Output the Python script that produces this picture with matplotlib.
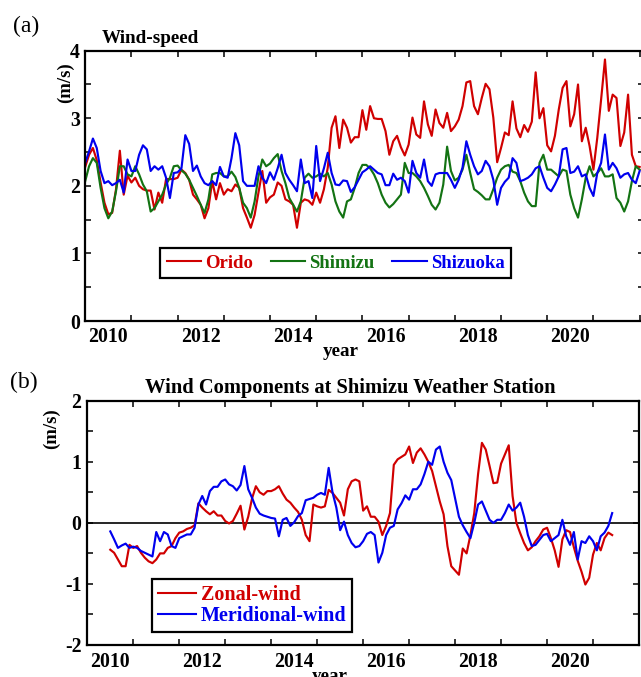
import numpy as np
import matplotlib
matplotlib.use("Agg")
import matplotlib.pyplot as plt
from matplotlib.lines import Line2D

# ---------------- data ----------------
# (a) monthly wind speed (m/s), July 2009 .. July 2021
speed_start = 2009.5
orido = [
    2.28, 2.46, 2.56, 2.38, 2.05, 1.75, 1.58, 1.60, 1.95, 2.52, 1.87, 2.15,
    2.05, 2.12, 2.00, 1.95, 1.93, 1.93, 1.65, 1.90, 1.75, 2.10, 2.10, 2.10,
    2.12, 2.24, 2.19, 2.09, 1.87, 1.80, 1.72, 1.52, 1.67, 2.07, 1.80, 2.04,
    1.87, 1.95, 1.92, 2.02, 1.97, 1.67, 1.53, 1.38, 1.57, 1.90, 2.22, 1.75,
    1.83, 1.87, 2.05, 2.00, 1.80, 1.77, 1.72, 1.38, 1.75, 1.80, 1.78, 1.72,
    1.90, 1.75, 1.95, 2.27, 2.86, 3.03, 2.56, 2.98, 2.86, 2.64, 2.72, 2.72,
    3.12, 2.83, 3.18, 3.00, 2.99, 2.99, 2.81, 2.46, 2.66, 2.74, 2.57, 2.45,
    2.61, 3.01, 2.76, 2.71, 3.25, 2.91, 2.74, 3.13, 2.93, 2.86, 3.08, 2.81,
    2.88, 2.98, 3.18, 3.53, 3.55, 3.18, 3.06, 3.30, 3.51, 3.43, 3.01, 2.35,
    2.56, 2.79, 2.75, 3.25, 2.85, 2.72, 2.90, 2.80, 2.95, 3.68, 3.00, 3.15,
    2.60, 2.51, 2.74, 3.13, 3.45, 3.55, 2.88, 3.06, 3.50, 2.66, 2.86, 2.59,
    2.24, 2.71, 3.28, 3.87, 3.11, 3.35, 3.30, 2.59, 2.79, 3.35, 2.46, 2.29,
    2.28,
]
shimizu = [
    2.07, 2.29, 2.41, 2.34, 1.97, 1.67, 1.52, 1.62, 1.92, 2.29, 2.29, 2.17,
    2.14, 2.29, 2.17, 2.02, 1.92, 1.62, 1.67, 1.77, 1.87, 2.02, 2.12, 2.29,
    2.30, 2.23, 2.18, 2.09, 1.97, 1.85, 1.72, 1.60, 1.80, 2.17, 2.19, 2.19,
    2.14, 2.14, 2.21, 2.13, 1.97, 1.75, 1.67, 1.53, 1.77, 2.14, 2.39, 2.29,
    2.33, 2.41, 2.47, 2.22, 2.04, 1.82, 1.72, 1.62, 1.77, 2.12, 2.18, 2.12,
    2.14, 2.18, 2.14, 2.19, 2.02, 1.77, 1.62, 1.53, 1.77, 1.80, 1.97, 2.19,
    2.31, 2.31, 2.26, 2.17, 2.04, 1.87, 1.75, 1.68, 1.73, 1.80, 1.87, 2.34,
    2.19, 2.19, 2.14, 2.07, 1.97, 1.85, 1.72, 1.65, 1.75, 2.02, 2.58, 2.22,
    2.08, 2.12, 2.24, 2.46, 2.19, 1.95, 1.91, 1.86, 1.80, 1.80, 1.95, 2.12,
    2.24, 2.29, 2.31, 2.21, 2.19, 2.07, 1.90, 1.77, 1.70, 1.70, 2.34, 2.46,
    2.24, 2.24, 2.19, 2.14, 2.24, 2.22, 1.87, 1.67, 1.53, 1.80, 2.12, 2.29,
    2.14, 2.19, 2.26, 2.14, 2.14, 2.17, 1.82, 1.75, 1.62, 1.77, 2.07, 2.29,
    2.24,
]
shizuoka = [
    2.34, 2.51, 2.70, 2.56, 2.22, 2.04, 2.07, 2.01, 2.04, 2.09, 1.90, 2.39,
    2.22, 2.22, 2.46, 2.60, 2.54, 2.22, 2.29, 2.24, 2.29, 2.12, 1.82, 2.19,
    2.20, 2.26, 2.75, 2.62, 2.22, 2.30, 2.14, 2.04, 2.01, 2.07, 2.01, 2.28,
    2.14, 2.12, 2.41, 2.78, 2.60, 2.07, 2.00, 2.00, 2.00, 2.29, 2.12, 2.04,
    2.20, 2.09, 2.26, 2.46, 2.19, 2.09, 2.01, 1.92, 2.39, 2.04, 2.07, 1.82,
    2.59, 2.07, 2.26, 2.49, 2.19, 2.02, 2.01, 2.08, 2.07, 1.91, 1.98, 2.09,
    2.20, 2.24, 2.29, 2.24, 2.19, 2.17, 2.01, 2.01, 2.18, 2.09, 2.12, 2.07,
    1.90, 2.37, 2.19, 2.12, 2.39, 2.07, 2.00, 2.17, 2.19, 2.19, 2.19, 2.09,
    1.97, 2.09, 2.27, 2.66, 2.46, 2.29, 2.17, 2.22, 2.37, 2.29, 2.09, 1.72,
    1.97, 2.06, 2.12, 2.41, 2.34, 2.07, 2.09, 2.12, 2.17, 2.26, 2.29, 2.12,
    1.97, 1.92, 2.02, 2.14, 2.54, 2.56, 2.19, 2.21, 2.29, 2.14, 2.17, 1.97,
    1.85, 2.19, 2.34, 2.76, 2.24, 2.34, 2.26, 2.12, 2.17, 2.19, 2.09, 2.04,
    2.22,
]

# (b) monthly wind components at Shimizu (m/s), Jan 2010 .. Dec 2020
comp_start = 2010.0
zonal = [
    -0.44, -0.49, -0.60, -0.71, -0.71, -0.36, -0.41, -0.38, -0.49, -0.57, -0.63, -0.66,
    -0.60, -0.50, -0.50, -0.41, -0.38, -0.25, -0.16, -0.14, -0.10, -0.08, -0.04, 0.32,
    0.25, 0.19, 0.14, 0.19, 0.12, 0.12, 0.03, -0.01, 0.03, 0.15, 0.28, -0.11,
    0.10, 0.40, 0.60, 0.50, 0.46, 0.52, 0.52, 0.55, 0.60, 0.48, 0.38, 0.33,
    0.25, 0.18, 0.05, -0.20, -0.30, 0.30, 0.27, 0.25, 0.27, 0.54, 0.49, 0.41,
    0.33, 0.12, 0.55, 0.68, 0.71, 0.68, 0.20, 0.27, 0.10, 0.10, 0.02, -0.20,
    -0.05, 0.16, 0.95, 1.04, 1.08, 1.12, 1.25, 0.98, 1.15, 1.22, 1.12, 1.00,
    0.85, 0.60, 0.35, 0.14, -0.38, -0.71, -0.78, -0.85, -0.42, -0.50, -0.20, 0.16,
    0.80, 1.31, 1.20, 0.93, 0.65, 0.66, 0.97, 1.12, 1.27, 0.44, 0.00, -0.17,
    -0.33, -0.45, -0.40, -0.30, -0.22, -0.11, -0.08, -0.25, -0.45, -0.72, -0.27, -0.12,
    -0.15, -0.40, -0.62, -0.80, -1.01, -0.90, -0.52, -0.33, -0.45, -0.25, -0.16, -0.20,
]
meridional = [
    -0.14, -0.27, -0.41, -0.37, -0.34, -0.41, -0.39, -0.41, -0.46, -0.49, -0.52, -0.55,
    -0.15, -0.30, -0.15, -0.19, -0.38, -0.41, -0.25, -0.22, -0.19, -0.19, -0.08, 0.30,
    0.44, 0.30, 0.52, 0.59, 0.59, 0.68, 0.71, 0.63, 0.60, 0.53, 0.62, 0.93,
    0.55, 0.41, 0.25, 0.15, 0.12, 0.10, 0.08, 0.07, -0.22, 0.05, 0.08, -0.05,
    0.01, 0.11, 0.16, 0.37, 0.39, 0.41, 0.46, 0.49, 0.46, 0.90, 0.50, 0.25,
    -0.12, 0.02, -0.20, -0.33, -0.40, -0.38, -0.30, -0.18, -0.15, -0.20, -0.65, -0.49,
    -0.20, -0.08, -0.05, 0.22, 0.32, 0.45, 0.38, 0.55, 0.55, 0.63, 0.80, 1.00,
    0.95, 1.20, 1.25, 1.00, 0.82, 0.70, 0.40, 0.10, -0.04, -0.15, -0.25, 0.00,
    0.30, 0.35, 0.20, 0.05, 0.00, 0.05, 0.05, 0.16, 0.30, 0.20, 0.25, 0.33,
    0.10, -0.20, -0.38, -0.36, -0.28, -0.20, -0.18, -0.30, -0.25, -0.20, 0.05, -0.22,
    -0.36, -0.15, -0.60, -0.30, -0.33, -0.22, -0.30, -0.45, -0.22, -0.16, -0.05, 0.16,
]

year_labels = [2010, 2012, 2014, 2016, 2018, 2020]
speed_names = ["Orido", "Shimizu", "Shizuoka"]
comp_names = ["Zonal-wind", "Meridional-wind"]

RED, GREEN, BLUE = "#d00000", "#137313", "#0000ee"

# ---------------- figure ----------------
plt.rcParams["font.family"] = ["Liberation Serif", "DejaVu Serif"]
plt.rcParams["font.weight"] = "bold"
plt.rcParams["axes.unicode_minus"] = False

W, H = 641, 677
fig = plt.figure(figsize=(W / 100, H / 100), dpi=100)
fig.patch.set_facecolor("white")

TICK_FS = 14.2


def box(l, t, r, b):
    return [l / W, 1 - b / H, (r - l) / W, (b - t) / H]


def style_axes(ax, ylo, yhi, xlo, xhi, ypad, xpad):
    ax.set_xlim(xlo, xhi)
    ax.set_ylim(ylo, yhi)
    ax.set_xticks(year_labels)
    ax.set_xticklabels([str(y) for y in year_labels])
    ax.set_xticks(np.arange(2009.5, 2022.0, 1.0), minor=True)
    ax.set_yticks(np.arange(ylo, yhi + 0.01, 1.0))
    ax.set_yticks(np.arange(ylo, yhi + 0.01, 0.5), minor=True)
    ax.tick_params(axis="x", which="major", length=0, pad=xpad, labelsize=TICK_FS)
    ax.tick_params(axis="x", which="minor", direction="in", length=4, width=1.1,
                   top=True, bottom=True)
    ax.tick_params(axis="y", which="both", direction="in", length=4, width=1.1,
                   left=True, right=True, pad=ypad, labelsize=TICK_FS)
    for s in ax.spines.values():
        s.set_linewidth(1.6)
    for lab in ax.get_xticklabels() + ax.get_yticklabels():
        lab.set_fontweight("bold")


# ----- (a) wind speed -----
ax1 = fig.add_axes(box(84.7, 50.7, 643.5, 321))
t_speed = speed_start + np.arange(len(orido)) / 12.0
for vals, col, name in zip([orido, shimizu, shizuoka], [RED, GREEN, BLUE], speed_names):
    ax1.plot(t_speed, vals, color=col, lw=1.55, label=name)
style_axes(ax1, 0, 4, 2009.489, 2021.584, ypad=3.5, xpad=4.0)

h1 = [Line2D([], [], color=c, lw=1.5) for c in (RED, GREEN, BLUE)]
leg1 = ax1.legend(h1, speed_names, loc="upper left", bbox_to_anchor=(0.1348, 0.270),
                  ncol=3, frameon=True, fancybox=False, edgecolor="black",
                  framealpha=1, handlelength=1.85, handletextpad=0.2,
                  columnspacing=0.95, borderpad=0.35, borderaxespad=0,
                  prop=dict(size=13.5, weight="bold"))
leg1.get_frame().set_linewidth(1.6)
for txt, c in zip(leg1.get_texts(), (RED, GREEN, BLUE)):
    txt.set_color(c)

# ----- (b) wind components -----
ax2 = fig.add_axes(box(87.3, 400.7, 639, 645))
t_comp = comp_start + np.arange(len(zonal)) / 12.0
ax2.axhline(0, color="black", lw=1.2, zorder=1)
ax2.plot(t_comp, zonal, color=RED, lw=1.55, label=comp_names[0], zorder=2)
ax2.plot(t_comp, meridional, color=BLUE, lw=1.55, label=comp_names[1], zorder=3)
style_axes(ax2, -2, 2, 2009.545, 2021.487, ypad=4.2, xpad=4.8)

h2 = [Line2D([], [], color=c, lw=1.5) for c in (RED, BLUE)]
leg2 = ax2.legend(h2, comp_names, loc="upper left", bbox_to_anchor=(0.118, 0.270),
                  ncol=1, frameon=True, fancybox=False, edgecolor="black",
                  framealpha=1, handlelength=1.85, handletextpad=0.25,
                  labelspacing=0.05, borderpad=0.3, borderaxespad=0,
                  prop=dict(size=14.5, weight="bold"))
leg2.get_frame().set_linewidth(1.6)
for txt, c in zip(leg2.get_texts(), (RED, BLUE)):
    txt.set_color(c)

# ----- labels and titles -----
def ftext(x, y, s, **kw):
    fig.text(x / W, 1 - y / H, s, ha=kw.pop("ha", "center"),
             va=kw.pop("va", "center"), **kw)

ftext(26, 26.5, "(a)", fontsize=17, fontweight="normal")
ftext(23.5, 382.5, "(b)", fontsize=17, fontweight="normal")
ftext(102, 38.3, "Wind-speed", ha="left", fontsize=13.8, fontweight="bold")
ftext(350, 388, "Wind Components at Shimizu Weather Station", fontsize=14.8,
      fontweight="bold")
ftext(65, 83, "(m/s)", rotation=90, fontsize=13.5, fontweight="bold")
ftext(51, 428.5, "(m/s)", rotation=90, fontsize=13.5, fontweight="bold")
ftext(341, 351.5, "year", fontsize=13.8, fontweight="bold")
# bottom axis caption sits at the lower page edge, as does the next year label
ftext(330, 676.5, "year", fontsize=13.8, fontweight="bold")
ftext(662.7, 657.5, "2022", fontsize=TICK_FS, fontweight="bold")

fig.savefig("out.png", dpi=100, facecolor="white")
